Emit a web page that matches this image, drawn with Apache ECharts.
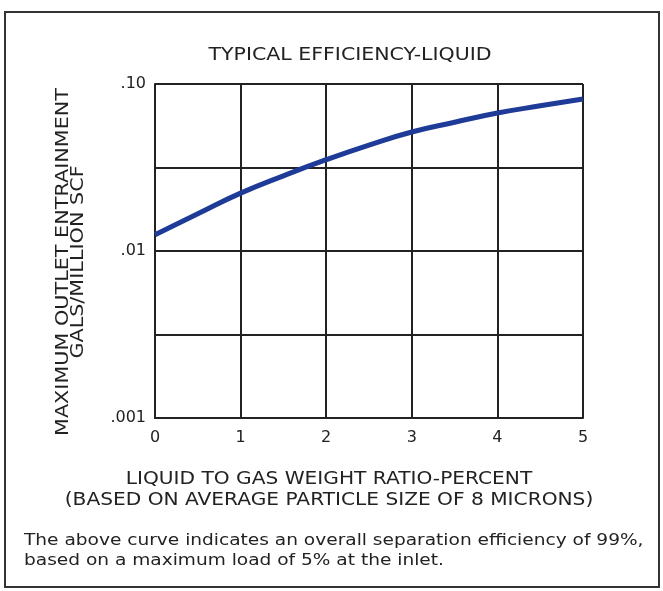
<!DOCTYPE html>
<html>
<head>
<meta charset="utf-8">
<script src="https://cdn.jsdelivr.net/npm/echarts@6/dist/echarts.min.js"></script>
<style>
html, body { margin: 0; padding: 0; background: #fff; }
#chart { width: 663px; height: 591px; }
</style>
</head>
<body>
<div id="chart"></div>
<script>
// liquid to gas weight ratio, percent
const ratio = [0, 0.5, 1, 1.5, 2, 2.5, 3, 3.5, 4, 4.5, 5]
// max outlet entrainment, gals / million scf
const entrainment = [0.0125, 0.0167, 0.0222, 0.0282, 0.0352, 0.0431, 0.0516, 0.059, 0.067, 0.074, 0.0813]
const xTicks = [0, 1, 2, 3, 4, 5]
const yTickLabels = { '-3': '.001', '-2': '.01', '-1': '.10' }

const ink = '#222'
const font = '"DejaVu Sans", sans-serif'

const chart = echarts.init(document.getElementById('chart'))

chart.setOption({
  animation: false,
  backgroundColor: '#fff',
  grid: { left: 155, right: 80, top: 84, bottom: 173 },
  xAxis: {
    type: 'value',
    min: xTicks[0],
    max: xTicks[xTicks.length - 1],
    interval: 1,
    axisLine: { lineStyle: { color: ink, width: 2 } },
    axisTick: { show: false },
    axisLabel: { color: ink, fontFamily: font, fontSize: 16, margin: 12 },
    splitLine: { show: true, lineStyle: { color: ink, width: 2 } }
  },
  yAxis: {
    type: 'log',
    // half-decade grid lines
    logBase: Math.sqrt(10),
    min: 0.001,
    max: 0.1,
    axisLine: { show: true, lineStyle: { color: ink, width: 2 } },
    axisTick: { show: false },
    axisLabel: {
      color: ink,
      fontFamily: font,
      fontSize: 16,
      margin: 9,
      formatter: function (v) {
        const l = Math.log10(v)
        const r = Math.round(l)
        if (Math.abs(l - r) > 0.01) return ''
        return yTickLabels[r] || ''
      }
    },
    splitLine: { show: true, lineStyle: { color: ink, width: 2 } }
  },
  series: [
    {
      type: 'line',
      smooth: true,
      symbol: 'none',
      data: ratio.map((x, i) => [x, entrainment[i]]),
      lineStyle: { color: '#1f3b98', width: 5 }
    }
  ],
  graphic: [
    {
      type: 'rect',
      shape: { x: 5, y: 12, width: 654, height: 575 },
      style: { fill: null, stroke: '#333', lineWidth: 2 },
      silent: true
    },
    {
      type: 'text',
      x: 350, y: 55,
      scaleX: 1.14,
      style: { text: 'TYPICAL EFFICIENCY-LIQUID', fill: ink, font: '18px ' + font, align: 'center', verticalAlign: 'middle' }
    },
    {
      type: 'text',
      x: 71, y: 262,
      rotation: Math.PI / 2,
      scaleX: 1.22,
      style: {
        text: 'MAXIMUM OUTLET ENTRAINMENT\nGALS/MILLION SCF',
        fill: ink, font: '17px ' + font, align: 'center', verticalAlign: 'middle', lineHeight: 15
      }
    },
    {
      type: 'text',
      x: 329, y: 490,
      scaleX: 1.12,
      style: {
        text: 'LIQUID TO GAS WEIGHT RATIO-PERCENT\n(BASED ON AVERAGE PARTICLE SIZE OF 8 MICRONS)',
        fill: ink, font: '18px ' + font, align: 'center', verticalAlign: 'middle', lineHeight: 21
      }
    },
    {
      type: 'text',
      x: 24, y: 551,
      scaleX: 1.16,
      style: {
        text: 'The above curve indicates an overall separation efficiency of 99%,\nbased on a maximum load of 5% at the inlet.',
        fill: ink, font: '16px ' + font, align: 'left', verticalAlign: 'middle', lineHeight: 20
      }
    }
  ]
})
</script>
</body>
</html>
